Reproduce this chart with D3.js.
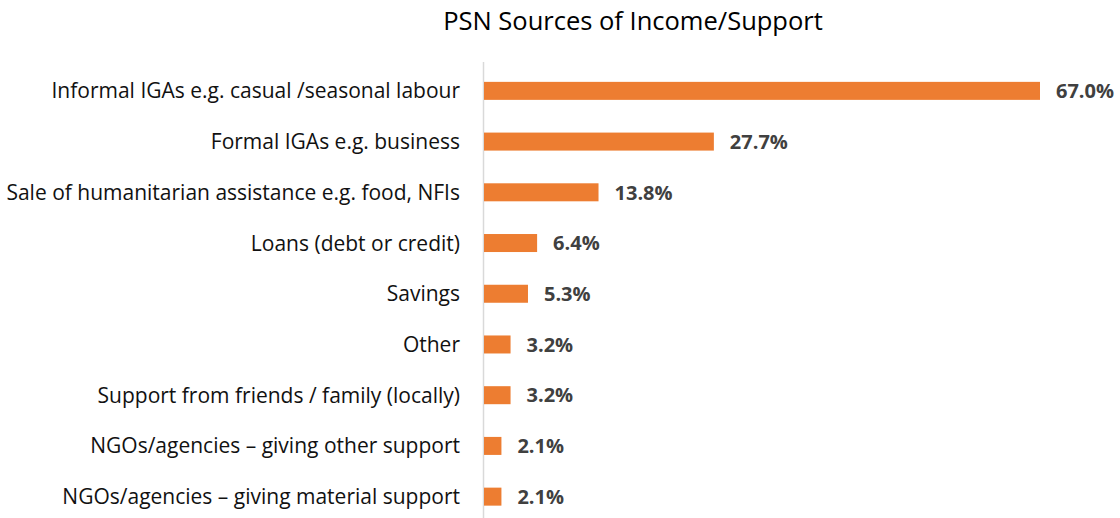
<!DOCTYPE html>
<html>
<head>
<meta charset="utf-8">
<script src="https://cdn.jsdelivr.net/npm/d3@7"></script>
<style>
  html, body { margin: 0; padding: 0; background: #fff; }
  svg { display: block; }
</style>
</head>
<body>
<svg id="chart" width="1120" height="518"></svg>
<script>
const categories = [
  "Informal IGAs e.g. casual /seasonal labour",
  "Formal IGAs e.g. business",
  "Sale of humanitarian assistance e.g. food, NFIs",
  "Loans (debt or credit)",
  "Savings",
  "Other",
  "Support from friends / family (locally)",
  "NGOs/agencies \u2013 giving other support",
  "NGOs/agencies \u2013 giving material support"
];
const values = [67.0, 27.7, 13.8, 6.4, 5.3, 3.2, 3.2, 2.1, 2.1];
const title = "PSN Sources of Income/Support";

const svg = d3.select("#chart");
const font = "'Open Sans', sans-serif";

const x0 = 484;
const x = d3.scaleLinear().domain([0, 67]).range([x0, 1040]);
const y = d3.scaleBand().domain(categories).range([65.5, 522]).paddingInner(0.645).paddingOuter(0.3225);

svg.append("text")
  .attr("x", 633).attr("y", 30)
  .attr("text-anchor", "middle")
  .attr("font-family", font)
  .attr("font-size", 25.5)
  .attr("fill", "#000")
  .text(title);

svg.append("line")
  .attr("x1", x0 - 0.5).attr("x2", x0 - 0.5)
  .attr("y1", 62).attr("y2", 518)
  .attr("stroke", "#d9d9d9").attr("stroke-width", 1.5);

const data = categories.map((c, i) => ({ c, v: values[i] }));

svg.selectAll("rect.bar").data(data).join("rect")
  .attr("class", "bar")
  .attr("x", x0)
  .attr("y", d => y(d.c))
  .attr("width", d => x(d.v) - x0)
  .attr("height", y.bandwidth())
  .attr("fill", "#ED7D31");

svg.selectAll("text.val").data(data).join("text")
  .attr("class", "val")
  .attr("x", d => x(d.v) + 16)
  .attr("y", d => y(d.c) + y.bandwidth() / 2)
  .attr("dy", "0.36em")
  .attr("font-family", font)
  .attr("font-size", 20)
  .attr("font-weight", "bold")
  .attr("fill", "#404040")
  .text(d => d.v.toFixed(1) + "%");

svg.selectAll("text.cat").data(data).join("text")
  .attr("class", "cat")
  .attr("x", 460)
  .attr("y", d => y(d.c) + y.bandwidth() / 2)
  .attr("dy", "0.36em")
  .attr("text-anchor", "end")
  .attr("font-family", font)
  .attr("font-size", 21)
  .attr("fill", "#111")
  .text(d => d.c);
</script>
</body>
</html>
